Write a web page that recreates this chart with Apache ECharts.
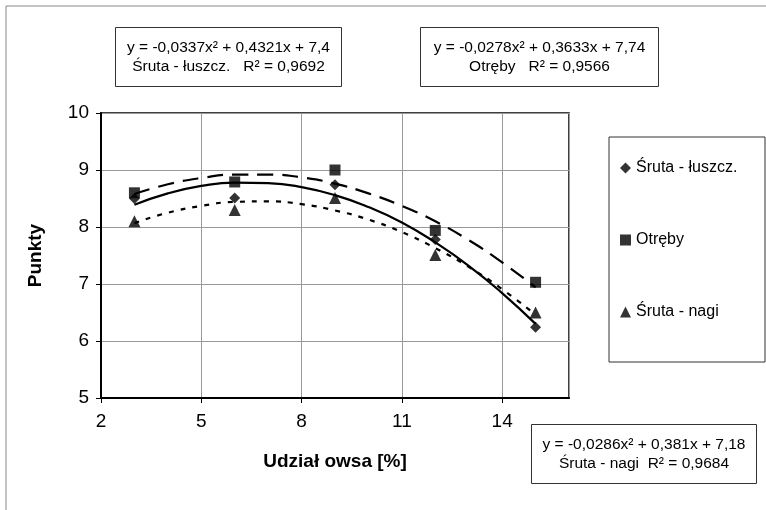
<!DOCTYPE html>
<html>
<head>
<meta charset="utf-8">
<script src="https://cdn.jsdelivr.net/npm/echarts@6/dist/echarts.min.js"></script>
<style>
  html, body { margin: 0; padding: 0; background: #fff; }
  #chart { width: 766px; height: 510px; }
</style>
</head>
<body>
<div id="chart"></div>
<script>
// measured points
const xValues = [3, 6, 9, 12, 15]
const sruta_luszcz = [8.5, 8.51, 8.74, 7.78, 6.24]
const otreby = [8.6, 8.79, 9.0, 7.94, 7.03]
const sruta_nagi = [8.1, 8.3, 8.51, 7.51, 6.5]

// trend curves at whole x
const trendX = [3, 4, 5, 6, 7, 8, 9, 10, 11, 12, 13, 14, 15]
const trendLuszcz = [8.39, 8.59, 8.72, 8.78, 8.77, 8.70, 8.56, 8.35, 8.08, 7.73, 7.32, 6.84, 6.30]
const trendOtreby = [8.58, 8.75, 8.86, 8.92, 8.92, 8.87, 8.76, 8.59, 8.37, 8.10, 7.77, 7.38, 6.94]
const trendNagi = [8.07, 8.25, 8.37, 8.44, 8.45, 8.40, 8.29, 8.13, 7.91, 7.63, 7.30, 6.91, 6.46]

const seriesNames = ['Śruta - łuszcz.', 'Otręby', 'Śruta - nagi']
const xTicks = [2, 16, 3]   // min, max, interval
const yTicks = [5, 10, 1]

const boxes = [
    { l: 115, t: 27, w: 226, h: 59, lines: ['y = -0,0337x² + 0,4321x + 7,4', 'Śruta - łuszcz.   R² = 0,9692'] },
    { l: 420, t: 27, w: 238, h: 59, lines: ['y = -0,0278x² + 0,3633x + 7,74', 'Otręby   R² = 0,9566'] },
    { l: 531, t: 424, w: 225, h: 59, lines: ['y = -0,0286x² + 0,381x + 7,18', 'Śruta - nagi  R² = 0,9684'] },
]

const FONT = '"Liberation Sans", Arial, sans-serif'

const pairs = (xs, ys) => xs.map((x, i) => [x, ys[i]])

const boxGraphics = boxes.map(b => ({
    type: 'group',
    left: b.l,
    top: b.t,
    children: [
        {
            type: 'rect',
            shape: { x: 0, y: 0, width: b.w, height: b.h },
            style: { fill: '#fff', stroke: '#333', lineWidth: 1 },
        },
        {
            type: 'text',
            x: b.w / 2,
            y: b.h / 2,
            style: {
                text: b.lines.join('\n'),
                font: '15.5px ' + FONT,
                fill: '#000',
                align: 'center',
                verticalAlign: 'middle',
                lineHeight: 19,
            },
        },
    ],
}))

const trendStyle = (type) => ({
    type: 'line',
    data: null,
    smooth: true,
    symbol: 'none',
    silent: true,
    z: 2,
    lineStyle: { color: '#000', width: 2.2, type: type },
})

const option = {
    backgroundColor: '#fff',
    animation: false,
    grid: {
        left: 101,
        top: 113,
        width: 468,
        height: 285,
        show: true,
        borderColor: '#000',
        borderWidth: 1.5,
    },
    legend: {
        orient: 'vertical',
        left: 615,
        top: 155,
        itemGap: 56,
        itemWidth: 11,
        itemHeight: 11,
        textStyle: { fontSize: 16, fontFamily: FONT, color: '#000' },
        data: [
            { name: seriesNames[0], icon: 'diamond' },
            { name: seriesNames[1], icon: 'rect' },
            { name: seriesNames[2], icon: 'triangle' },
        ],
    },
    xAxis: {
        type: 'value',
        min: xTicks[0],
        max: xTicks[1],
        interval: xTicks[2],
        name: 'Udział owsa [%]',
        nameLocation: 'middle',
        nameGap: 54,
        nameTextStyle: { fontSize: 19, fontWeight: 'bold', fontFamily: FONT, color: '#000' },
        axisLine: { lineStyle: { color: '#000', width: 2 } },
        axisTick: { show: true, length: 5, lineStyle: { color: '#000' } },
        axisLabel: {
            fontSize: 19, fontFamily: FONT, color: '#000', margin: 14,
            showMaxLabel: false,
        },
        splitLine: { lineStyle: { color: '#999', width: 1 } },
    },
    yAxis: {
        type: 'value',
        min: yTicks[0],
        max: yTicks[1],
        interval: yTicks[2],
        name: 'Punkty',
        nameLocation: 'middle',
        nameGap: 56,
        nameRotate: 90,
        nameTextStyle: { fontSize: 19, fontWeight: 'bold', fontFamily: FONT, color: '#000' },
        axisLine: { show: true, lineStyle: { color: '#000', width: 2 } },
        axisTick: { show: true, length: 5, lineStyle: { color: '#000' } },
        axisLabel: { fontSize: 19, fontFamily: FONT, color: '#000', margin: 12 },
        splitLine: { lineStyle: { color: '#999', width: 1 } },
    },
    series: [
        Object.assign(trendStyle('solid'), { data: pairs(trendX, trendLuszcz) }),
        Object.assign(trendStyle([16, 9]), { data: pairs(trendX, trendOtreby) }),
        Object.assign(trendStyle([5, 7]), { data: pairs(trendX, trendNagi) }),
        {
            name: seriesNames[0],
            type: 'scatter',
            symbol: 'diamond',
            symbolSize: 11,
            itemStyle: { color: '#000' },
            z: 4,
            data: pairs(xValues, sruta_luszcz),
        },
        {
            name: seriesNames[1],
            type: 'scatter',
            symbol: 'rect',
            symbolSize: 11,
            itemStyle: { color: '#000' },
            z: 4,
            data: pairs(xValues, otreby),
        },
        {
            name: seriesNames[2],
            type: 'scatter',
            symbol: 'triangle',
            symbolSize: 12,
            itemStyle: { color: '#000' },
            z: 4,
            data: pairs(xValues, sruta_nagi),
        },
    ],
    graphic: [
        // outer frame (top and left edges)
        {
            type: 'polyline',
            shape: { points: [[6, 510], [6, 6], [766, 6]] },
            style: { stroke: '#888', lineWidth: 1, fill: null },
        },
        // legend frame
        {
            type: 'rect',
            shape: { x: 609, y: 137, width: 156, height: 225 },
            style: { fill: null, stroke: '#333', lineWidth: 1 },
        },
    ].concat(boxGraphics),
}

const chart = echarts.init(document.getElementById('chart'))
chart.setOption(option)
</script>
</body>
</html>
